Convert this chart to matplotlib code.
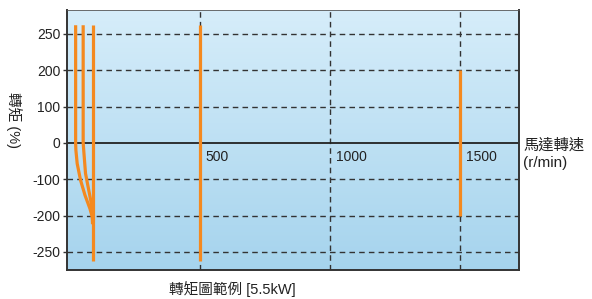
import numpy as np
import matplotlib.pyplot as plt

# torque curves, speed in r/min, torque in %
curve1_speed = [22, 22, 23, 28, 41, 58, 77, 86, 87]
curve1_torque = [262, 0, -20, -57, -103, -144, -181, -202, -212]
curve2_speed = [51, 51, 55, 60, 70, 80, 86, 87]
curve2_torque = [262, 0, -38, -84, -121, -158, -185, -205]
curve3_speed = [87, 87]
curve3_torque = [262, -262]
curve4_speed = [500, 500]
curve4_torque = [262, -262]
curve5_speed = [1500, 1500]
curve5_torque = [200, -200]

y_ticks = [250, 200, 100, 0, -100, -200, -250]
x_marks = [500, 1000, 1500]

# non-linear torque axis: ticks equally spaced
brk_t = [-400, -250, -200, -100, 0, 100, 200, 250, 400]
brk_p = [-6, -3, -2, -1, 0, 1, 2, 3, 6]


def fwd(v):
    return np.interp(v, brk_t, brk_p)


def inv(p):
    return np.interp(p, brk_p, brk_t)


orange = '#f4891f'
cjk = ['Liberation Sans', 'Noto Sans CJK TC']
plt.rcParams['font.family'] = cjk

fig = plt.figure(figsize=(5.92, 2.99), dpi=100)
ax = fig.add_axes([0.1137, 0.097, 0.763, 0.8696])
ax.set_yscale('function', functions=(fwd, inv))
ax.set_xlim(-10, 1727)
ax.set_ylim(-275, 283)

# background gradient
grad = np.linspace(0, 1, 256).reshape(-1, 1)
top = np.array([0.84, 0.93, 0.98])
bot = np.array([0.65, 0.83, 0.93])
img = top * (1 - grad[..., None]) + bot * grad[..., None]
ax.imshow(img, extent=[0, 1, 0, 1], transform=ax.transAxes, aspect='auto', zorder=0)

for t in y_ticks:
    if t == 0:
        ax.axhline(0, color='#222222', lw=1.3, zorder=2)
    else:
        ax.axhline(t, color='#333333', lw=1.0, ls=(0, (4, 3)), zorder=1)
for x in x_marks:
    ax.axvline(x, color='#333333', lw=1.0, ls=(0, (4, 3)), zorder=1)

for sx, sy in [(curve1_speed, curve1_torque), (curve2_speed, curve2_torque),
               (curve3_speed, curve3_torque), (curve4_speed, curve4_torque),
               (curve5_speed, curve5_torque)]:
    ax.plot(sx, sy, color=orange, lw=2.3, solid_capstyle='butt', zorder=3)

for x in x_marks:
    ax.text(x + 22, -38, str(x), fontsize=10, color='#222222', va='center', ha='left', zorder=4)

ax.set_yticks(y_ticks)
ax.set_yticklabels([str(t) for t in y_ticks])
ax.set_xticks([])
ax.tick_params(axis='y', length=3, width=1, color='#333333', labelsize=10, labelcolor='#222222', pad=2)

for s in ['left', 'bottom', 'right']:
    ax.spines[s].set_color('#333333')
    ax.spines[s].set_linewidth(1.4)
ax.spines['top'].set_color('#555555')
ax.spines['top'].set_linewidth(0.6)

fig.text(0.023, 0.6, '轉矩 (%)', rotation=270, fontsize=10.5, color='#222222',
         va='center', ha='center')
fig.text(0.392, 0.035, '轉矩圖範例 [5.5kW]', fontsize=10.5, color='#222222',
         va='center', ha='center')
fig.text(0.884, 0.483, '馬達轉速\n(r/min)', fontsize=11, color='#222222',
         va='center', ha='left', linespacing=1.3)

fig.savefig('out.png', dpi=100)
